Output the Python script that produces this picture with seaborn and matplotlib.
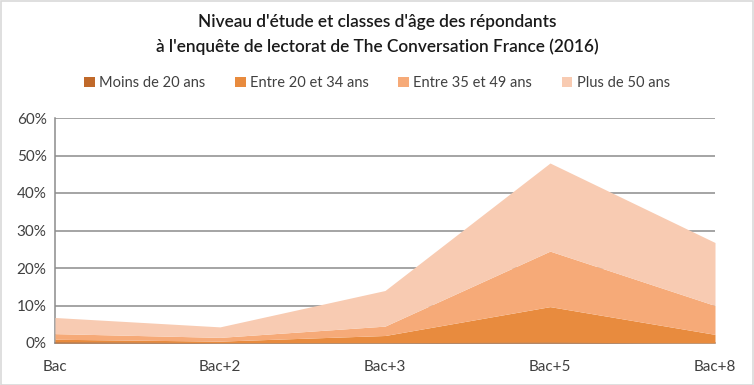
import matplotlib
matplotlib.use("Agg")
import matplotlib.pyplot as plt
import seaborn as sns
import numpy as np
from matplotlib.patches import Patch, Rectangle

categories = ["Bac", "Bac+2", "Bac+3", "Bac+5", "Bac+8"]
series_names = ["Moins de 20 ans", "Entre 20 et 34 ans", "Entre 35 et 49 ans", "Plus de 50 ans"]
moins_20 = [0.3, 0.1, 0.1, 0.2, 0.0]
entre_20_34 = [0.7, 0.4, 1.9, 9.5, 2.3]
entre_35_49 = [1.5, 1.0, 2.5, 14.8, 7.7]
plus_50 = [4.3, 2.8, 9.5, 23.5, 16.8]
colors = ["#C0692A", "#E88B3E", "#F6AA78", "#F8CBB2"]

sns.set_theme(style="white")
plt.rcParams['font.family'] = ['Lato', 'DejaVu Sans']

fig = plt.figure(figsize=(7.54, 3.85), dpi=100)
ax = fig.add_axes([55/754, 42/385, 660/754, 225/385])

x = np.arange(len(categories))
ax.stackplot(x, moins_20, entre_20_34, entre_35_49, plus_50, colors=colors,
             labels=series_names, linewidth=0, zorder=3)

ax.set_xlim(0, len(categories) - 1)
ax.set_ylim(0, 60)
ax.set_yticks(np.arange(0, 61, 10))
ax.set_yticklabels([f"{v}%" for v in range(0, 61, 10)], color="#404040", fontsize=11)
ax.set_xticks(x)
ax.set_xticklabels(categories, color="#404040", fontsize=11)
ax.tick_params(axis="x", pad=12, length=0)
ax.tick_params(axis="y", pad=6, length=0)
ax.yaxis.grid(True, color="#8C8C8C", linewidth=1.1, zorder=0)
ax.set_axisbelow(True)
for s in ["top", "right"]:
    ax.spines[s].set_visible(False)
ax.spines["left"].set_color("#8C8C8C")
ax.spines["bottom"].set_color("#8C8C8C")
ax.spines["left"].set_linewidth(1.1)
ax.spines["bottom"].set_linewidth(1.1)

fig.text(0.5, 1 - 22/385, "Niveau d'étude et classes d'âge des répondants",
         ha="center", va="center", fontsize=12.4, fontweight="semibold", color="#1a1a1a")
fig.text(0.5, 1 - 47/385, "à l'enquête de lectorat de The Conversation France (2016)",
         ha="center", va="center", fontsize=12.4, fontweight="semibold", color="#1a1a1a")

handles = [Patch(facecolor=c, edgecolor="none") for c in colors]
fig.legend(handles, series_names, loc="center", bbox_to_anchor=(0.5, 1 - 83/385),
           ncol=4, frameon=False, fontsize=10.5, handlelength=0.75, handleheight=0.75,
           handletextpad=0.3, columnspacing=2.0, labelcolor="#404040")

fig.patches.append(Rectangle((0.5/754, 0.5/385), 1 - 1.5/754, 1 - 1.5/385,
                             transform=fig.transFigure, fill=False,
                             edgecolor="#D9D9D9", linewidth=1.2))

fig.savefig("out.png", dpi=100)
